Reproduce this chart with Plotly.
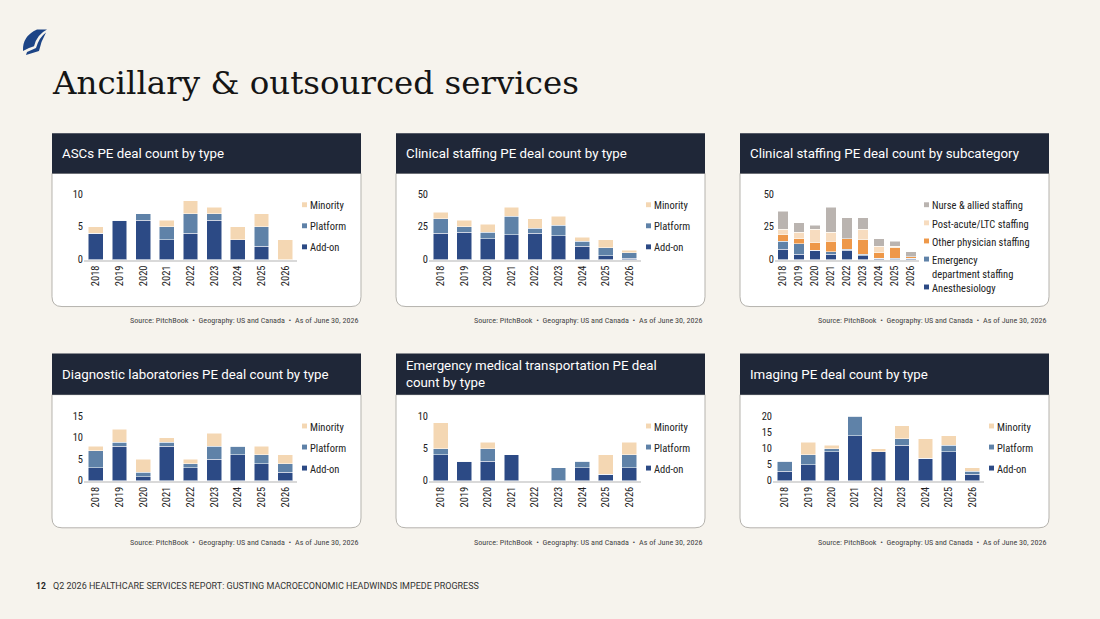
import plotly.graph_objects as go

W, H = 1100, 619

years = ["2018", "2019", "2020", "2021", "2022", "2023", "2024", "2025", "2026"]

type_names = ["Add-on", "Platform", "Minority"]
type_colors = ["#2c4a85", "#5f82a8", "#f4d7b3"]

sub_names = ["Anesthesiology", "Emergency<br>department staffing", "Other physician staffing",
             "Post-acute/LTC staffing", "Nurse & allied staffing"]
sub_colors = ["#2c4a85", "#5f82a8", "#ee9849", "#f7dcbf", "#bab4b0"]

# ASCs
asc_addon = [4, 6, 6, 3, 4, 6, 3, 2, 0]
asc_platform = [0, 0, 1, 2, 3, 1, 0, 3, 0]
asc_minority = [1, 0, 0, 1, 2, 1, 2, 2, 3]

# clinical staffing by type
staff_addon = [20, 21, 16, 19, 20, 18, 10, 3, 1]
staff_platform = [11, 4, 5, 14, 4, 8, 4, 6, 4]
staff_minority = [5, 5, 6, 7, 7, 7, 3, 6, 2]

# clinical staffing by subcategory
sub_anesth = [8, 4, 7, 4, 7, 3, 1, 0, 1]
sub_ed = [6, 8, 0, 2, 1, 1, 0, 1, 0]
sub_other = [5, 4, 6, 8, 8, 11, 4, 8, 1]
sub_postacute = [4, 5, 10, 7, 0, 8, 5, 1, 0]
sub_nurse = [14, 7, 3, 19, 16, 9, 6, 4, 4]

# diagnostic labs
lab_addon = [3, 8, 1, 8, 3, 5, 6, 4, 2]
lab_platform = [4, 1, 1, 1, 1, 3, 2, 2, 2]
lab_minority = [1, 3, 3, 1, 1, 3, 0, 2, 2]

# emergency medical transportation
emt_addon = [4, 3, 3, 4, 0, 0, 2, 1, 2]
emt_platform = [1, 0, 2, 0, 0, 2, 1, 0, 2]
emt_minority = [4, 0, 1, 0, 0, 0, 0, 3, 2]

# imaging
img_addon = [3, 5, 9, 14, 9, 11, 7, 9, 2]
img_platform = [3, 3, 1, 6, 0, 2, 0, 2, 1]
img_minority = [0, 4, 1, 0, 1, 4, 6, 3, 1]

source_text = "Source: PitchBook  •  Geography: US and Canada  •  As of June 30, 2026"

panels = [
    dict(title="ASCs PE deal count by type", series=[asc_addon, asc_platform, asc_minority],
         names=type_names, colors=type_colors, ymax=10, dtick=5),
    dict(title="Clinical staffing PE deal count by type", series=[staff_addon, staff_platform, staff_minority],
         names=type_names, colors=type_colors, ymax=50, dtick=25),
    dict(title="Clinical staffing PE deal count by subcategory",
         series=[sub_anesth, sub_ed, sub_other, sub_postacute, sub_nurse],
         names=sub_names, colors=sub_colors, ymax=50, dtick=25),
    dict(title="Diagnostic laboratories PE deal count by type", series=[lab_addon, lab_platform, lab_minority],
         names=type_names, colors=type_colors, ymax=15, dtick=5),
    dict(title="Emergency medical transportation PE deal<br>count by type",
         series=[emt_addon, emt_platform, emt_minority],
         names=type_names, colors=type_colors, ymax=10, dtick=5),
    dict(title="Imaging PE deal count by type", series=[img_addon, img_platform, img_minority],
         names=type_names, colors=type_colors, ymax=20, dtick=5),
]

# layout in pixels
card_x = [52, 396, 740]
card_w = 309
rows = [dict(head=130, body=171, bottom=307, zero=259, top=192, source=321, leg=203),
        dict(head=355, body=397, bottom=533, zero=485, top=419, source=548, leg=429)]
plot_x = [(84, 297), (429, 641), (775, 919), (84, 297), (429, 641), (773, 984)]

COND = "Roboto Condensed, Liberation Sans Narrow, DejaVu Sans Condensed, Roboto, sans-serif"
BG = "#f6f3ed"
NAVY = "#1f2738"


def px(x):
    return x / W


def py(y):
    return 1 - y / H


def pt(x, y):
    return f"{px(x):.5f},{py(y):.5f}"


fig = go.Figure()
shapes = []
annotations = []

for i, p in enumerate(panels):
    row = rows[i // 3]
    cx = card_x[i % 3]
    n = "" if i == 0 else str(i + 1)

    # card body with rounded bottom corners
    x0, x1, y0, y1, r = cx, cx + card_w, row["body"], row["bottom"], 10
    path = (f"M{pt(x0, y0)} L{pt(x1, y0)} L{pt(x1, y1 - r)} Q{pt(x1, y1)} {pt(x1 - r, y1)} "
            f"L{pt(x0 + r, y1)} Q{pt(x0, y1)} {pt(x0, y1 - r)} Z")
    shapes.append(dict(type="path", path=path, xref="paper", yref="paper", layer="below",
                       fillcolor="white", line=dict(color="#b5b3ae", width=1)))
    shapes.append(dict(type="rect", xref="paper", yref="paper", layer="below",
                       x0=px(x0), x1=px(x1), y0=py(row["body"]), y1=py(row["head"]),
                       fillcolor=NAVY, line=dict(width=0)))
    annotations.append(dict(text=p["title"], xref="paper", yref="paper", x=px(cx + 8),
                            y=py((row["head"] + row["body"]) / 2), xanchor="left", yanchor="middle",
                            align="left", showarrow=False,
                            font=dict(family="Roboto", size=13.3, color="white")))
    annotations.append(dict(text=source_text, xref="paper", yref="paper", x=px(cx + card_w),
                            y=py(row["source"]), xanchor="right", yanchor="middle", showarrow=False,
                            font=dict(family=COND, size=8.1, color="#444444")))

    for s, name, color in zip(p["series"], p["names"], p["colors"]):
        fig.add_trace(go.Bar(x=years, y=s, name=name.replace("<br>", " "), marker_color=color,
                             marker_line=dict(color="white", width=0.5),
                             xaxis="x" + n, yaxis="y" + n, showlegend=False))

    xa, xb = plot_x[i]
    fig.update_layout({
        "xaxis" + n: dict(domain=[px(xa), px(xb)], anchor="y" + n, type="category",
                          tickangle=-90, showline=True, linecolor="#d9d9d9", linewidth=1.5,
                          ticks="", showgrid=False, tickfont=dict(family=COND, size=10.5, color="#222222")),
        "yaxis" + n: dict(domain=[py(row["zero"]), py(row["top"])], anchor="x" + n,
                          range=[0, p["ymax"]], dtick=p["dtick"], showgrid=False, zeroline=False,
                          showline=False, ticks="", tickfont=dict(family=COND, size=10.5, color="#222222")),
    })

    # legend: last series on top
    step = 18.5 if len(p["names"]) > 3 else 21.5
    lx = xb + 5
    ly = row["leg"]
    for name, color in zip(p["names"][::-1], p["colors"][::-1]):
        shapes.append(dict(type="rect", xref="paper", yref="paper", x0=px(lx), x1=px(lx + 5),
                           y0=py(ly + 2.5), y1=py(ly - 2.5), fillcolor=color, line=dict(width=0)))
        annotations.append(dict(text=name, xref="paper", yref="paper", x=px(lx + 6), y=py(ly - 7.5),
                                xanchor="left", yanchor="top", align="left", showarrow=False,
                                font=dict(family=COND, size=10.5, color="#222222")))
        ly += step + (10 if "<br>" in name else 0)

# logo
shapes.append(dict(type="path", xref="paper", yref="paper", fillcolor="#1d4486", line=dict(width=0),
                   path=f"M{pt(23, 46)} Q{pt(22, 31)} {pt(37, 24)} L{pt(47, 24)} Q{pt(37, 29)} {pt(34, 41)} "
                        f"L{pt(29, 43)} Z"))
shapes.append(dict(type="path", xref="paper", yref="paper", fillcolor="#1d4486", line=dict(width=0),
                   path=f"M{pt(26, 50)} L{pt(27, 47)} L{pt(36, 43)} Q{pt(39, 32)} {pt(46, 27)} "
                        f"Q{pt(41, 36)} {pt(39, 46)} Z"))

annotations.append(dict(text="Ancillary & outsourced services", xref="paper", yref="paper",
                        x=px(50), y=py(79), xanchor="left", yanchor="middle", showarrow=False,
                        font=dict(family="DejaVu Serif", size=32.5, color="#151515")))
annotations.append(dict(text="<b>12</b>", xref="paper", yref="paper", x=px(34), y=py(592),
                        xanchor="left", yanchor="middle", showarrow=False,
                        font=dict(family="Roboto", size=8.5, color="#222222")))
annotations.append(dict(text="Q2 2026 HEALTHCARE SERVICES REPORT: GUSTING MACROECONOMIC HEADWINDS IMPEDE PROGRESS",
                        xref="paper", yref="paper", x=px(51), y=py(592), xanchor="left", yanchor="middle",
                        showarrow=False, font=dict(family="Roboto", size=9, color="#333333")))

fig.update_layout(width=W, height=H, margin=dict(l=0, r=0, t=0, b=0), barmode="stack", bargap=0.37,
                  paper_bgcolor=BG, plot_bgcolor="rgba(0,0,0,0)", showlegend=False,
                  shapes=shapes, annotations=annotations, font=dict(family="Roboto"))

fig.write_html("out.html", config={"displayModeBar": False},
               post_script="document.body.style.margin='0';document.body.style.background='%s';" % BG)
